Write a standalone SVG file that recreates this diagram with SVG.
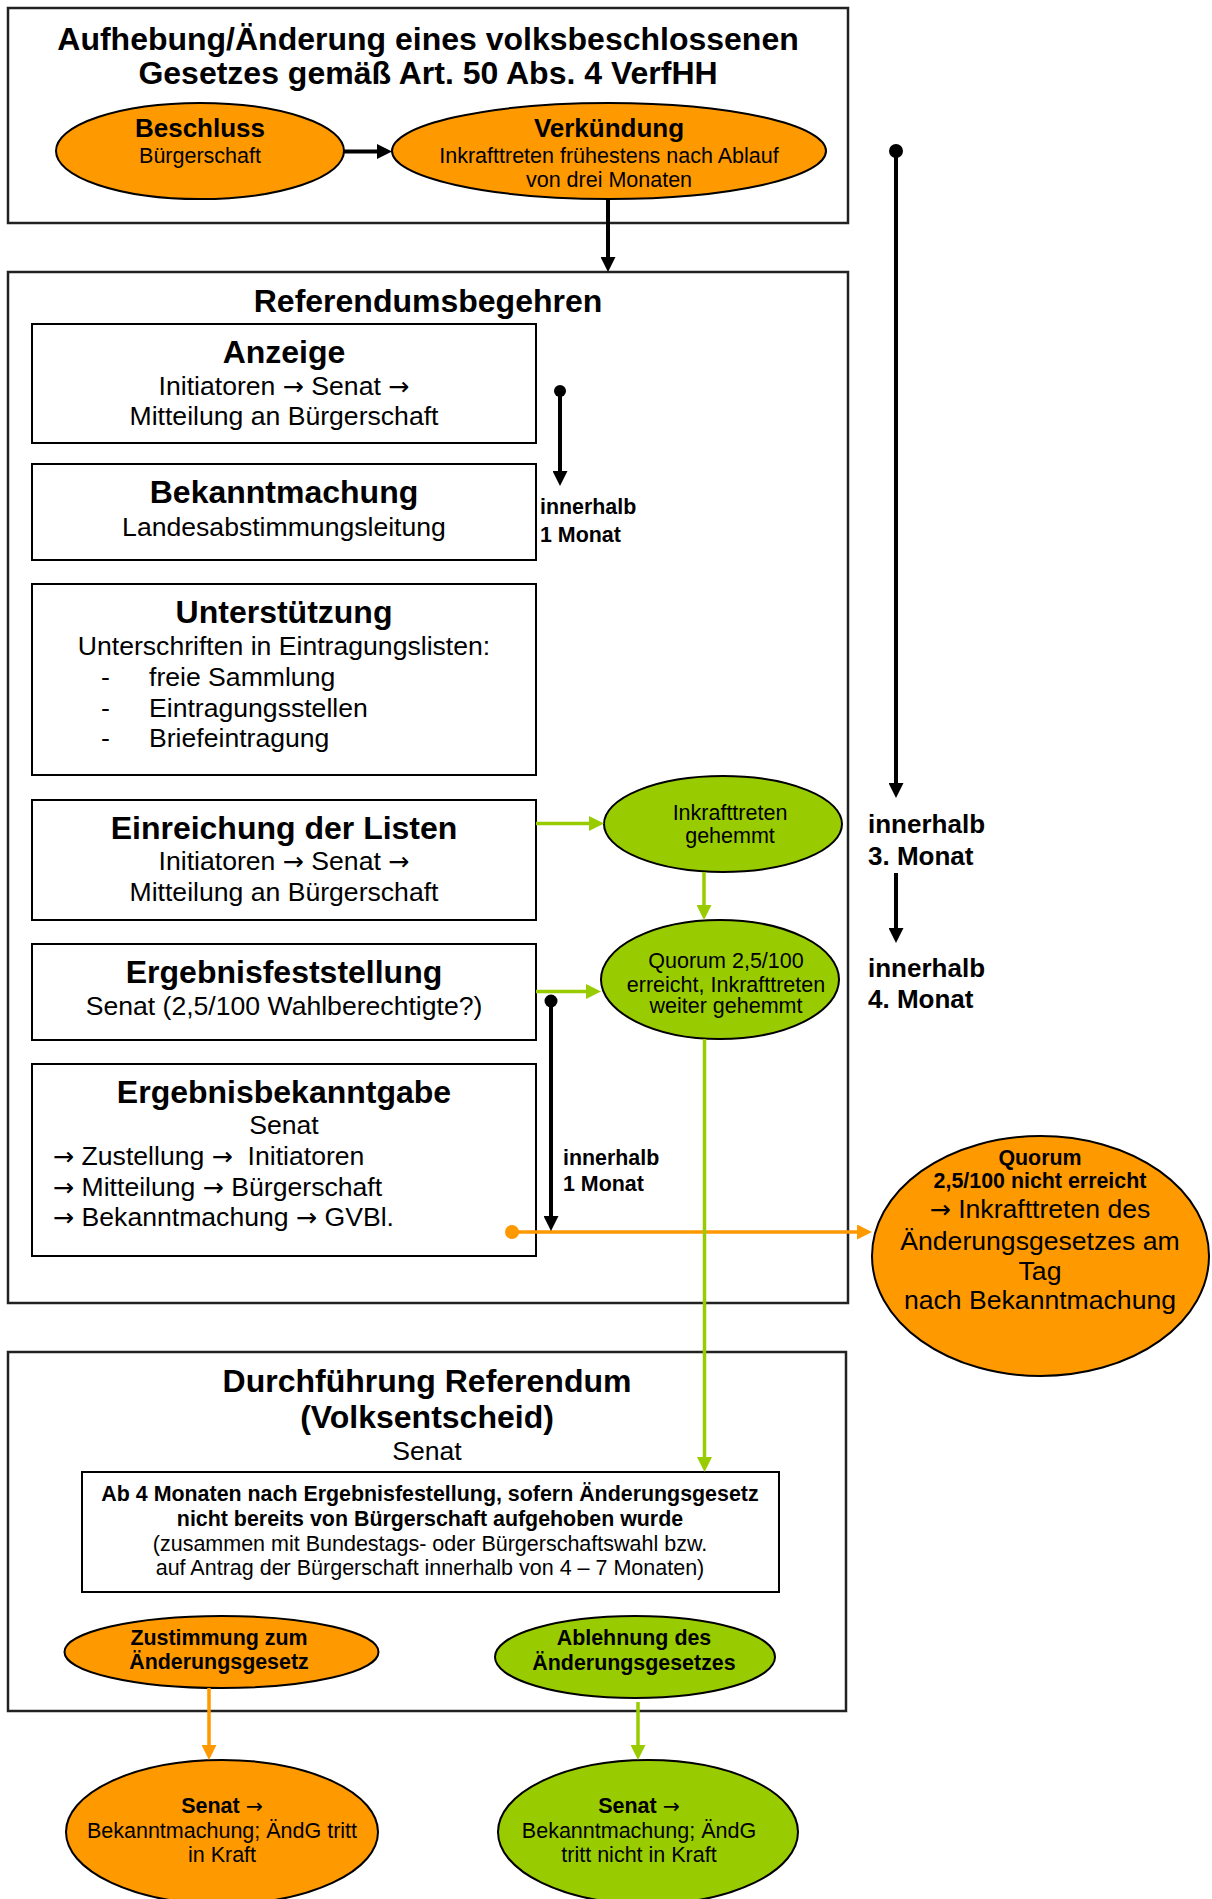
<svg xmlns="http://www.w3.org/2000/svg" width="1212" height="1899" viewBox="0 0 1212 1899">
<defs>
<style>
text{font-family:"Liberation Sans",Arial,sans-serif;fill:#000}
.ar{font-family:"DejaVu Sans",sans-serif;font-size:0.95em;font-weight:normal}
.c{text-anchor:middle}
.h{font-size:32px;font-weight:bold}
.r26{font-size:26.6px}
.b26{font-size:26px;font-weight:bold}
.r21{font-size:21.5px}
.b21{font-size:21.4px;font-weight:bold}
.outer{fill:#fff;stroke:#222;stroke-width:2.5}
.box{fill:#fff;stroke:#000;stroke-width:2}
.or{fill:#FF9900;stroke:#000;stroke-width:2}
.gr{fill:#99CC00;stroke:#000;stroke-width:2}
.kb{stroke:#000;stroke-width:4;fill:none}
.kg{stroke:#99CC00;stroke-width:3.5;fill:none}
.ko{stroke:#FF9900;stroke-width:3.5;fill:none}
</style>
<marker id="aB" markerUnits="userSpaceOnUse" markerWidth="15" markerHeight="15" refX="5" refY="7.5" orient="auto"><path d="M0,0 L15,7.5 L0,15 z" fill="#000"/></marker>
<marker id="aG" markerUnits="userSpaceOnUse" markerWidth="15" markerHeight="15" refX="5" refY="7.5" orient="auto"><path d="M0,0 L15,7.5 L0,15 z" fill="#99CC00"/></marker>
<marker id="aO" markerUnits="userSpaceOnUse" markerWidth="15" markerHeight="15" refX="5" refY="7.5" orient="auto"><path d="M0,0 L15,7.5 L0,15 z" fill="#FF9900"/></marker>
</defs>
<rect width="1212" height="1899" fill="#fff"/>

<g id="sec-aufhebung">
<rect class="outer" x="8" y="8" width="840" height="215"/>
<text class="h c" x="428" y="50">Aufhebung/Änderung eines volksbeschlossenen</text>
<text class="h c" x="428" y="84">Gesetzes gemäß Art. 50 Abs. 4 VerfHH</text>
</g>
<g id="n-beschluss">
<ellipse class="or" cx="200" cy="151" rx="144" ry="48"/>
<text class="b26 c" x="200" y="137">Beschluss</text>
<text class="r21 c" x="200" y="163">Bürgerschaft</text>
</g>
<g id="n-verkuendung">
<ellipse class="or" cx="609" cy="151" rx="217" ry="48"/>
<text class="b26 c" x="609" y="137">Verkündung</text>
<text class="r21 c" x="609" y="163">Inkrafttreten frühestens nach Ablauf</text>
<text class="r21 c" x="609" y="187">von drei Monaten</text>
</g>

<g id="sec-referendumsbegehren">
<rect class="outer" x="8" y="272" width="840" height="1031"/>
<text class="h c" x="428" y="312">Referendumsbegehren</text>
</g>
<g id="n-anzeige">
<rect class="box" x="32" y="324" width="504" height="119"/>
<text class="h c" x="284" y="363">Anzeige</text>
<text class="r26 c" x="284" y="395">Initiatoren <tspan class="ar">→</tspan> Senat <tspan class="ar">→</tspan></text>
<text class="r26 c" x="284" y="425">Mitteilung an Bürgerschaft</text>
</g>
<g id="n-bekanntmachung">
<rect class="box" x="32" y="464" width="504" height="96"/>
<text class="h c" x="284" y="503">Bekanntmachung</text>
<text class="r26 c" x="284" y="536">Landesabstimmungsleitung</text>
</g>
<g id="n-unterstuetzung">
<rect class="box" x="32" y="584" width="504" height="191"/>
<text class="h c" x="284" y="623">Unterstützung</text>
<text class="r26 c" x="284" y="655">Unterschriften in Eintragungslisten:</text>
<text class="r26" x="101" y="686">-</text>
<text class="r26" x="149" y="686">freie Sammlung</text>
<text class="r26" x="101" y="717">-</text>
<text class="r26" x="149" y="717">Eintragungsstellen</text>
<text class="r26" x="101" y="747">-</text>
<text class="r26" x="149" y="747">Briefeintragung</text>
</g>
<g id="n-einreichung">
<rect class="box" x="32" y="800" width="504" height="120"/>
<text class="h c" x="284" y="839">Einreichung der Listen</text>
<text class="r26 c" x="284" y="870">Initiatoren <tspan class="ar">→</tspan> Senat <tspan class="ar">→</tspan></text>
<text class="r26 c" x="284" y="901">Mitteilung an Bürgerschaft</text>
</g>
<g id="n-ergebnisfeststellung">
<rect class="box" x="32" y="944" width="504" height="96"/>
<text class="h c" x="284" y="983">Ergebnisfeststellung</text>
<text class="r26 c" x="284" y="1015">Senat (2,5/100 Wahlberechtigte?)</text>
</g>
<g id="n-ergebnisbekanntgabe">
<rect class="box" x="32" y="1064" width="504" height="192"/>
<text class="h c" x="284" y="1103">Ergebnisbekanntgabe</text>
<text class="r26 c" x="284" y="1134">Senat</text>
<text class="r26" x="53" y="1165"><tspan class="ar">→</tspan> Zustellung <tspan class="ar">→</tspan>&#160; Initiatoren</text>
<text class="r26" x="53" y="1196"><tspan class="ar">→</tspan> Mitteilung <tspan class="ar">→</tspan> Bürgerschaft</text>
<text class="r26" x="53" y="1226"><tspan class="ar">→</tspan> Bekanntmachung <tspan class="ar">→</tspan> GVBl.</text>
</g>

<g id="n-inkrafttreten-gehemmt">
<ellipse class="gr" cx="723" cy="824" rx="119" ry="48"/>
<text class="r21 c" x="730" y="820">Inkrafttreten</text>
<text class="r21 c" x="730" y="843">gehemmt</text>
</g>
<g id="n-quorum-erreicht">
<ellipse class="gr" cx="720" cy="979.5" rx="119" ry="59.5"/>
<text class="r21 c" x="726" y="968">Quorum 2,5/100</text>
<text class="r21 c" x="726" y="992">erreicht, Inkrafttreten</text>
<text class="r21 c" x="726" y="1013">weiter gehemmt</text>
</g>
<g id="n-quorum-nicht-erreicht">
<ellipse class="or" cx="1040.5" cy="1256" rx="168.5" ry="120"/>
<text class="b21 c" x="1040" y="1165">Quorum</text>
<text class="b21 c" x="1040" y="1188">2,5/100 nicht erreicht</text>
<text class="r26 c" x="1040" y="1218"><tspan class="ar">→</tspan> Inkrafttreten des</text>
<text class="r26 c" x="1040" y="1250">Änderungsgesetzes am</text>
<text class="r26 c" x="1040" y="1280">Tag</text>
<text class="r26 c" x="1040" y="1309">nach Bekanntmachung</text>
</g>

<g id="labels-fristen">
<text class="b21" x="540" y="514">innerhalb</text>
<text class="b21" x="540" y="542">1 Monat</text>
<text class="b21" x="563" y="1165">innerhalb</text>
<text class="b21" x="563" y="1191">1 Monat</text>
<text class="b26" x="868" y="833">innerhalb</text>
<text class="b26" x="868" y="865">3. Monat</text>
<text class="b26" x="868" y="977">innerhalb</text>
<text class="b26" x="868" y="1008">4. Monat</text>
</g>

<g id="sec-durchfuehrung">
<rect class="outer" x="8" y="1352" width="838" height="359"/>
<text class="h c" x="427" y="1392">Durchführung Referendum</text>
<text class="h c" x="427" y="1428">(Volksentscheid)</text>
<text class="r26 c" x="427" y="1460">Senat</text>
</g>
<g id="n-ab4monaten">
<rect class="box" x="82" y="1472" width="697" height="120"/>
<text class="b21 c" x="430" y="1501">Ab 4 Monaten nach Ergebnisfestellung, sofern Änderungsgesetz</text>
<text class="b21 c" x="430" y="1526">nicht bereits von Bürgerschaft aufgehoben wurde</text>
<text class="r21 c" x="430" y="1551">(zusammen mit Bundestags- oder Bürgerschaftswahl bzw.</text>
<text class="r21 c" x="430" y="1575">auf Antrag der Bürgerschaft innerhalb von 4 – 7 Monaten)</text>
</g>
<g id="n-zustimmung">
<ellipse class="or" cx="221.5" cy="1652" rx="157" ry="36"/>
<text class="b21 c" x="219" y="1645">Zustimmung zum</text>
<text class="b21 c" x="219" y="1669">Änderungsgesetz</text>
</g>
<g id="n-ablehnung">
<ellipse class="gr" cx="635" cy="1657" rx="140" ry="41"/>
<text class="b21 c" x="634" y="1645">Ablehnung des</text>
<text class="b21 c" x="634" y="1670">Änderungsgesetzes</text>
</g>
<g id="n-andg-tritt-in-kraft">
<ellipse class="or" cx="222" cy="1832" rx="156" ry="72"/>
<text class="r21 c" x="222" y="1813"><tspan font-weight="bold">Senat</tspan> <tspan class="ar">→</tspan></text>
<text class="r21 c" x="222" y="1838">Bekanntmachung; ÄndG tritt</text>
<text class="r21 c" x="222" y="1862">in Kraft</text>
</g>
<g id="n-andg-tritt-nicht-in-kraft">
<ellipse class="gr" cx="648" cy="1832" rx="150" ry="72"/>
<text class="r21 c" x="639" y="1813"><tspan font-weight="bold">Senat</tspan> <tspan class="ar">→</tspan></text>
<text class="r21 c" x="639" y="1838">Bekanntmachung; ÄndG</text>
<text class="r21 c" x="639" y="1862">tritt nicht in Kraft</text>
</g>

<g id="connectors">
<line class="kb" x1="344" y1="151.5" x2="382" y2="151.5" marker-end="url(#aB)"/>
<line class="kb" x1="608" y1="200" x2="608" y2="262" marker-end="url(#aB)"/>
<circle cx="896" cy="151" r="7" fill="#000"/>
<line class="kb" x1="896" y1="151" x2="896" y2="788" marker-end="url(#aB)"/>
<line class="kb" x1="896" y1="873" x2="896" y2="933" marker-end="url(#aB)"/>
<circle cx="560" cy="391" r="6" fill="#000"/>
<line class="kb" x1="560" y1="391" x2="560" y2="476" marker-end="url(#aB)"/>
<line class="kg" x1="536" y1="823.5" x2="594" y2="823.5" marker-end="url(#aG)"/>
<line class="kg" x1="704" y1="872" x2="704" y2="910" marker-end="url(#aG)"/>
<line class="kg" x1="536" y1="991.5" x2="591" y2="991.5" marker-end="url(#aG)"/>
<line class="ko" x1="512" y1="1232" x2="862" y2="1232" marker-end="url(#aO)"/>
<circle cx="512" cy="1232" r="7" fill="#FF9900"/>
<line class="kg" x1="704.5" y1="1039" x2="704.5" y2="1462" marker-end="url(#aG)"/>
<circle cx="551" cy="1001" r="6.5" fill="#000"/>
<line class="kb" x1="551" y1="1001" x2="551" y2="1221" marker-end="url(#aB)"/>
<line class="ko" x1="209" y1="1688" x2="209" y2="1750" marker-end="url(#aO)"/>
<line class="kg" x1="638" y1="1702" x2="638" y2="1750" marker-end="url(#aG)"/>
</g>
</svg>
